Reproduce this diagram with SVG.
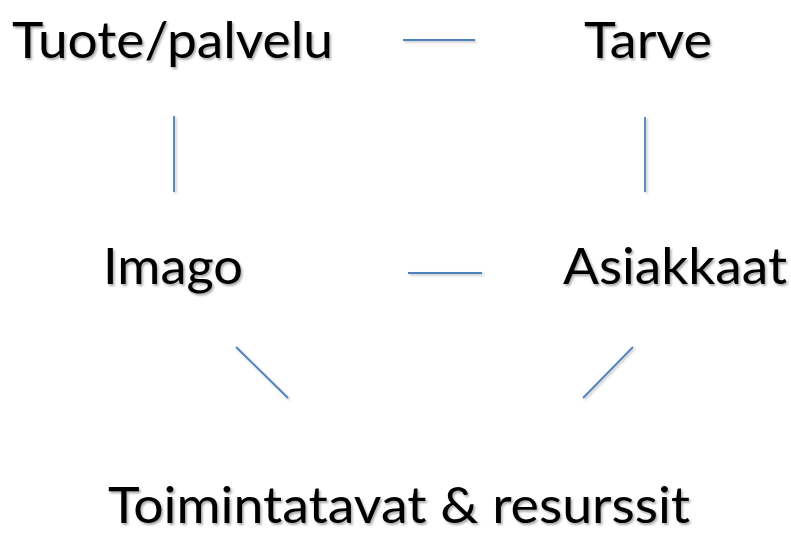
<svg xmlns="http://www.w3.org/2000/svg" width="791" height="533" viewBox="0 0 791 533">
  <defs>
    <filter id="textShadow" x="-5%" y="-20%" width="110%" height="140%">
      <feDropShadow dx="1.5" dy="2" stdDeviation="1" flood-color="#000" flood-opacity="0.35"/>
    </filter>
    <filter id="lineShadow" filterUnits="userSpaceOnUse" x="0" y="0" width="791" height="533">
      <feDropShadow dx="1.5" dy="1.5" stdDeviation="1" flood-color="#000" flood-opacity="0.25"/>
    </filter>
  </defs>
  <style>
    .label { font-family: "Lato", "Open Sans", "Liberation Sans", sans-serif; font-size: 50px; fill: #000; filter: url(#textShadow); }
    .link { stroke: #4f81bd; stroke-width: 1.8; fill: none; filter: url(#lineShadow); }
  </style>
  <rect width="791" height="533" fill="#fff"/>

  <g id="connectors">
    <line class="link" x1="403" y1="40" x2="475" y2="40"/>
    <line class="link" x1="174" y1="116" x2="174" y2="192"/>
    <line class="link" x1="645" y1="117" x2="645" y2="192"/>
    <line class="link" x1="408" y1="273" x2="482" y2="273"/>
    <line class="link" x1="236" y1="347" x2="288" y2="398"/>
    <line class="link" x1="633" y1="347" x2="583" y2="398"/>
  </g>

  <g id="tuote-palvelu">
    <text class="label" x="12" y="58" textLength="321" lengthAdjust="spacingAndGlyphs">Tuote/palvelu</text>
  </g>
  <g id="tarve">
    <text class="label" x="584" y="58" textLength="128" lengthAdjust="spacingAndGlyphs">Tarve</text>
  </g>
  <g id="imago">
    <text class="label" x="103" y="284" textLength="140" lengthAdjust="spacingAndGlyphs">Imago</text>
  </g>
  <g id="asiakkaat">
    <text class="label" x="563" y="284" textLength="224" lengthAdjust="spacingAndGlyphs">Asiakkaat</text>
  </g>
  <g id="toimintatavat-resurssit">
    <text class="label" x="108" y="523" textLength="582" lengthAdjust="spacingAndGlyphs">Toimintatavat &amp; resurssit</text>
  </g>
</svg>
